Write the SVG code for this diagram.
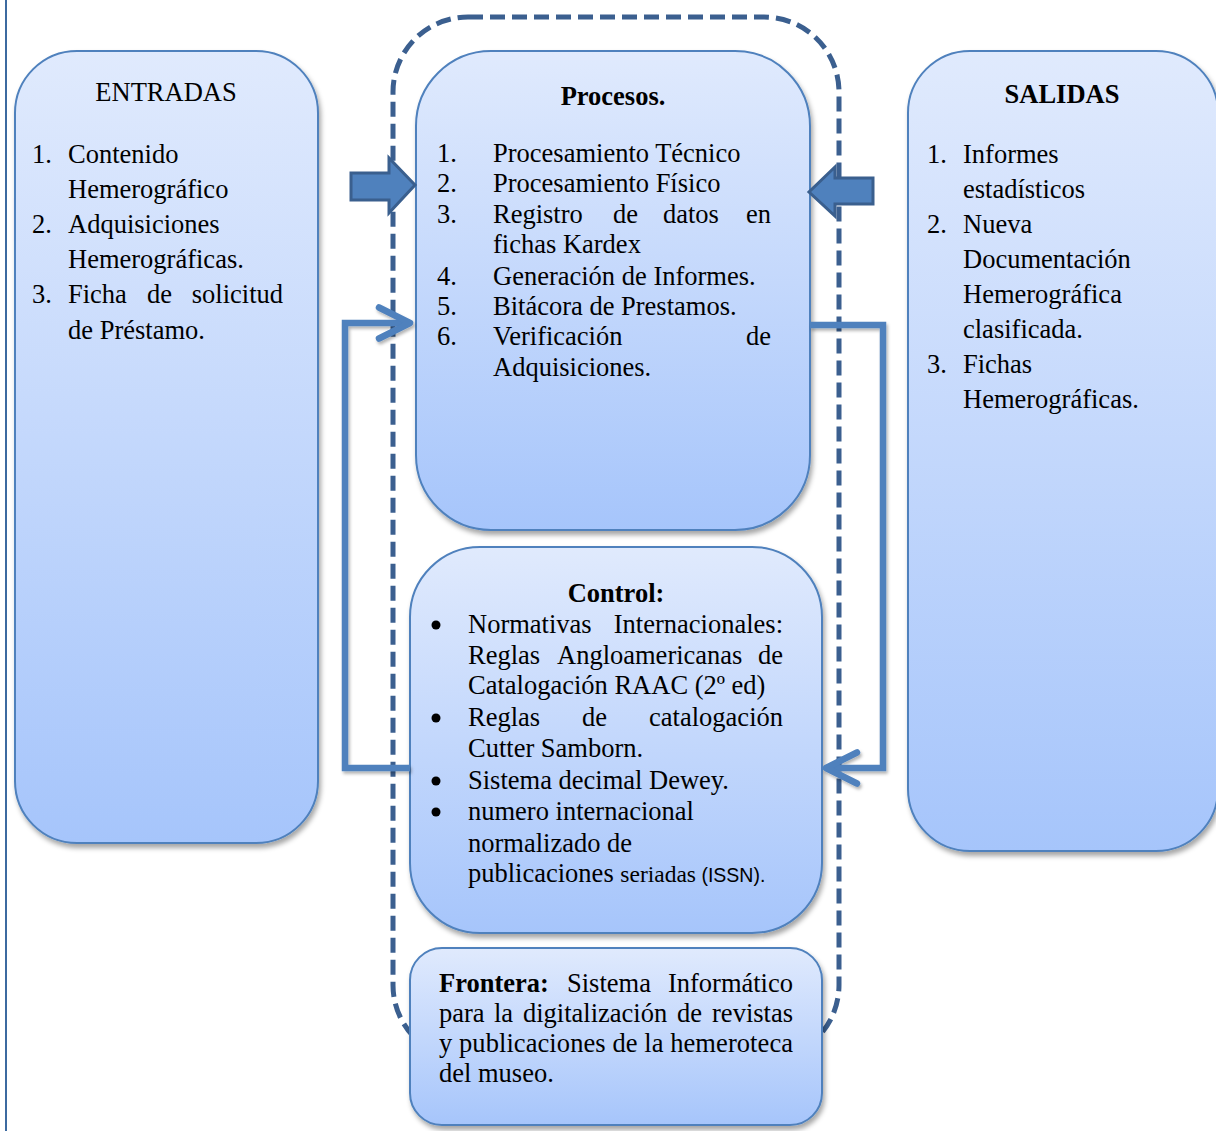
<svg xmlns="http://www.w3.org/2000/svg" width="1216" height="1131" viewBox="0 0 1216 1131">
  <defs>
    <linearGradient id="fillBlue" x1="0" y1="0" x2="0" y2="1">
      <stop offset="0" stop-color="#e0eafd"/>
      <stop offset="1" stop-color="#a6c5fb"/>
    </linearGradient>
    <filter id="shadow" x="-10%" y="-10%" width="125%" height="125%">
      <feDropShadow dx="2" dy="4" stdDeviation="2.5" flood-color="#000" flood-opacity="0.35"/>
    </filter>
    <filter id="lineShadow" x="-20%" y="-20%" width="140%" height="140%">
      <feDropShadow dx="1.5" dy="2.5" stdDeviation="1.5" flood-color="#000" flood-opacity="0.3"/>
    </filter>
    <marker id="chev" viewBox="-40 -24 48 48" refX="0" refY="0" markerWidth="48" markerHeight="48" markerUnits="userSpaceOnUse" orient="auto">
      <path d="M-31,-15.5 L0,0 L-31,15.5" fill="none" stroke="#4f81bd" stroke-width="6.5" stroke-linecap="round" stroke-linejoin="round"/>
    </marker>
  </defs>
  <style>
    .box{fill:url(#fillBlue);stroke:#4f81bd;stroke-width:2;filter:url(#shadow)}
    .t{font-family:"Liberation Serif","Times New Roman",serif;font-size:26.5px;fill:#000}
    .b{font-weight:bold}
    .mid{text-anchor:middle}
    .end{text-anchor:end}
    .flow{fill:none;stroke:#4f81bd;stroke-width:6.5;stroke-linejoin:miter;filter:url(#lineShadow)}
    .block{fill:#4f81bd;stroke:#3a5f8e;stroke-width:3;stroke-linejoin:miter}
    .boundary{fill:none;stroke:#3b5f8f;stroke-width:5;stroke-dasharray:15 7}
    .dot{fill:#000}
  </style>

  <!-- page margin rule -->
  <line x1="6" y1="0" x2="6" y2="1131" stroke="#3c6aa0" stroke-width="2"/>

  <!-- Inputs -->
  <g id="entradas">
    <rect class="box" x="15" y="51" width="303" height="792" rx="62"/>
    <text class="t mid" x="166" y="101">ENTRADAS</text>
    <text class="t" x="32" y="163">1.</text>
    <text class="t" x="68" y="163">Contenido</text>
    <text class="t" x="68" y="198">Hemerográfico</text>
    <text class="t" x="32" y="233">2.</text>
    <text class="t" x="68" y="233">Adquisiciones</text>
    <text class="t" x="68" y="268">Hemerográficas.</text>
    <text class="t" x="32" y="303">3.</text>
    <text class="t" x="68" y="303">Ficha</text>
    <text class="t" x="147" y="303">de</text>
    <text class="t end" x="283" y="303">solicitud</text>
    <text class="t" x="68" y="339">de Préstamo.</text>
  </g>

  <!-- Outputs -->
  <g id="salidas">
    <rect class="box" x="908" y="51" width="310" height="800" rx="62"/>
    <text class="t b mid" x="1062" y="103">SALIDAS</text>
    <text class="t" x="927" y="163">1.</text>
    <text class="t" x="963" y="163">Informes</text>
    <text class="t" x="963" y="198">estadísticos</text>
    <text class="t" x="927" y="233">2.</text>
    <text class="t" x="963" y="233">Nueva</text>
    <text class="t" x="963" y="268">Documentación</text>
    <text class="t" x="963" y="303">Hemerográfica</text>
    <text class="t" x="963" y="338">clasificada.</text>
    <text class="t" x="927" y="373">3.</text>
    <text class="t" x="963" y="373">Fichas</text>
    <text class="t" x="963" y="408">Hemerográficas.</text>
  </g>

  <!-- Processes -->
  <g id="procesos">
    <rect class="box" x="416" y="51" width="394" height="479" rx="75"/>
    <text class="t b mid" x="613" y="105">Procesos.</text>
    <text class="t" x="437" y="162">1.</text>
    <text class="t" x="493" y="162">Procesamiento Técnico</text>
    <text class="t" x="437" y="192">2.</text>
    <text class="t" x="493" y="192">Procesamiento Físico</text>
    <text class="t" x="437" y="223">3.</text>
    <text class="t" x="493" y="223">Registro</text>
    <text class="t" x="613" y="223">de</text>
    <text class="t" x="663" y="223">datos</text>
    <text class="t end" x="771" y="223">en</text>
    <text class="t" x="493" y="253">fichas Kardex</text>
    <text class="t" x="437" y="285">4.</text>
    <text class="t" x="493" y="285">Generación de Informes.</text>
    <text class="t" x="437" y="315">5.</text>
    <text class="t" x="493" y="315">Bitácora de Prestamos.</text>
    <text class="t" x="437" y="345">6.</text>
    <text class="t" x="493" y="345">Verificación</text>
    <text class="t end" x="771" y="345">de</text>
    <text class="t" x="493" y="376">Adquisiciones.</text>
  </g>

  <!-- Control -->
  <g id="control">
    <rect class="box" x="410" y="547" width="412" height="386" rx="70"/>
    <text class="t b mid" x="616" y="602">Control:</text>
    <circle class="dot" cx="436" cy="625" r="4.5"/>
    <text class="t" x="468" y="633">Normativas</text>
    <text class="t end" x="783" y="633">Internacionales:</text>
    <text class="t" x="468" y="664">Reglas</text>
    <text class="t" x="557" y="664">Angloamericanas</text>
    <text class="t end" x="783" y="664">de</text>
    <text class="t" x="468" y="694">Catalogación RAAC (2º ed)</text>
    <circle class="dot" cx="436" cy="718" r="4.5"/>
    <text class="t" x="468" y="726">Reglas</text>
    <text class="t" x="582" y="726">de</text>
    <text class="t end" x="783" y="726">catalogación</text>
    <text class="t" x="468" y="757">Cutter Samborn.</text>
    <circle class="dot" cx="436" cy="781" r="4.5"/>
    <text class="t" x="468" y="789">Sistema decimal Dewey.</text>
    <circle class="dot" cx="436" cy="812" r="4.5"/>
    <text class="t" x="468" y="820">numero internacional</text>
    <text class="t" x="468" y="852">normalizado de</text>
    <text class="t" x="468" y="882">publicaciones <tspan font-size="23.5px">seriadas</tspan><tspan font-family="'Liberation Sans', Arial, sans-serif" font-size="19.5px"> (ISSN).</tspan></text>
  </g>

  <!-- System boundary (dashed) -->
  <g id="boundary">
    <rect class="boundary" x="393" y="17" width="446" height="1043" rx="75"/>
  </g>

  <!-- Connectors: feedback loops and flow arrows -->
  <g id="connectors">
    <path class="flow" d="M410,768 H345 V323 H410" marker-end="url(#chev)"/>
    <path class="flow" d="M810,325 H883 V768 H826" marker-end="url(#chev)"/>
    <path class="block" d="M351,173 H389 V158 L415,185 L389,213 V200 H351 Z"/>
    <path class="block" d="M873,178 H835 V167 L809,192 L835,216 V204 H873 Z"/>
  </g>

  <!-- Boundary description -->
  <g id="frontera">
    <rect class="box" x="410" y="948" width="412" height="177" rx="32"/>
    <text class="t b" x="439" y="992">Frontera:</text>
    <text class="t" x="567" y="992">Sistema</text>
    <text class="t end" x="793" y="992">Informático</text>
    <text class="t" x="439" y="1022">para</text>
    <text class="t" x="494" y="1022">la</text>
    <text class="t" x="523" y="1022">digitalización</text>
    <text class="t" x="677" y="1022">de</text>
    <text class="t end" x="793" y="1022">revistas</text>
    <text class="t" x="439" y="1052" textLength="354" lengthAdjust="spacing">y publicaciones de la hemeroteca</text>
    <text class="t" x="439" y="1082">del museo.</text>
  </g>
</svg>
